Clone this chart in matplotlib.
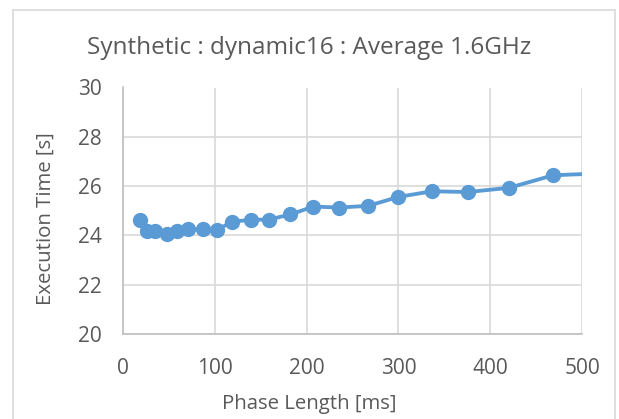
import matplotlib
matplotlib.use("Agg")
import matplotlib.pyplot as plt
from matplotlib.patches import Rectangle

phase_length_ms = [19, 26.6, 34.6, 47.4, 58.3, 71.1, 86.8, 102, 118.5, 139.7, 158.6,
                   182.4, 207.5, 235.2, 267.3, 299.8, 336.6, 375.6, 420.5, 468.6, 530]
exec_time_s = [24.64, 24.17, 24.17, 24.05, 24.18, 24.24, 24.24, 24.21, 24.55, 24.64, 24.64,
               24.85, 25.17, 25.13, 25.2, 25.56, 25.79, 25.76, 25.93, 26.44, 26.53]
title = "Synthetic : dynamic16 : Average 1.6GHz"
xlabel = "Phase Length [ms]"
ylabel = "Execution Time [s]"
xticks = [0, 100, 200, 300, 400, 500]
yticks = [20, 22, 24, 26, 28, 30]

plt.rcParams['font.family'] = ['Open Sans', 'DejaVu Sans']
txt = '#595959'
blue = '#5B9BD5'

fig = plt.figure(figsize=(6.19, 4.19), dpi=100)
fig.patches.append(Rectangle((13/619, -0.1), (615-13)/619, 1.1 - 10/419,
                             transform=fig.transFigure, fill=False,
                             edgecolor='#D9D9D9', linewidth=1.2))
ax = fig.add_axes([123/619, (419-334)/419, (582-123)/619, (334-87.5)/419])
ax.plot(phase_length_ms, exec_time_s, color=blue, linewidth=2.75, marker='o',
        markersize=10, clip_on=True)
ax.set_xlim(0, 500)
ax.set_ylim(20, 30)
ax.set_xticks(xticks)
ax.set_yticks(yticks)
ax.grid(True, color='#D9D9D9', linewidth=1.2)
ax.set_axisbelow(True)
for s in ['top', 'right']:
    ax.spines[s].set_visible(False)
for s in ['left', 'bottom']:
    ax.spines[s].set_color('#BFBFBF')
    ax.spines[s].set_linewidth(1.2)
ax.tick_params(length=0, labelsize=15, colors=txt)
ax.tick_params(axis='x', pad=17.5)
ax.tick_params(axis='y', pad=15)
fig.text(0.5, 1 - 404/419, xlabel, ha='center', va='center', fontsize=14.7, color=txt)
fig.text(46/619, 1 - 219/419, ylabel, ha='center', va='center', rotation=90,
         fontsize=14.7, color=txt)
fig.text(0.5, 1 - 48/419, title, ha='center', va='center', fontsize=17.5, color=txt)
fig.savefig('out.png', dpi=100)
